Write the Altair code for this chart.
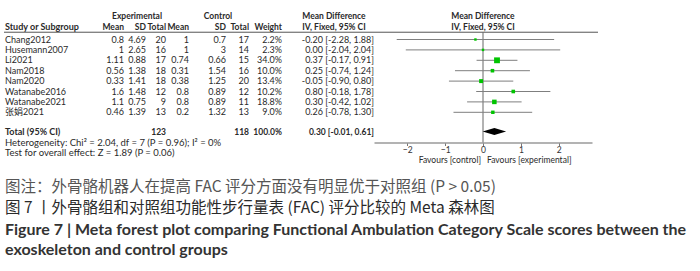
import altair as alt
import pandas as pd

# ---------------- data ----------------
studies = ["Chang2012", "Husemann2007", "Li2021", "Nam2018", "Nam2020",
           "Watanabe2016", "Watanabe2021", "张娟2021"]
e_mean = [0.8, 1, 1.11, 0.56, 0.33, 1.6, 1.1, 0.46]
e_sd = [4.69, 2.65, 0.88, 1.38, 1.41, 1.48, 0.75, 1.39]
e_n = [20, 16, 17, 18, 18, 12, 9, 13]
c_mean = [1, 1, 0.74, 0.31, 0.38, 0.8, 0.8, 0.2]
c_sd = [0.7, 3, 0.66, 1.54, 1.25, 0.89, 0.89, 1.32]
c_n = [17, 14, 15, 16, 20, 12, 11, 13]
weight = [2.2, 2.3, 34.0, 10.0, 13.4, 10.2, 18.8, 9.0]
md = [-0.20, 0.00, 0.37, 0.25, -0.05, 0.80, 0.30, 0.26]
lo = [-2.28, -2.04, -0.17, -0.74, -0.90, -0.18, -0.42, -0.78]
hi = [1.88, 2.04, 0.91, 1.24, 0.80, 1.78, 1.02, 1.30]

total_e, total_c = 123, 118
total_md, total_lo, total_hi = 0.30, -0.01, 0.61
het_text = "Heterogeneity: Chi² = 2.04, df = 7 (P = 0.96); I² = 0%"
test_text = "Test for overall effect: Z = 1.89 (P = 0.06)"
axis_ticks = [-2, -1, 0, 1, 2]

caption = [
    "图注：外骨骼机器人在提高 FAC 评分方面没有明显优于对照组 (P > 0.05)",
    "图 7 丨外骨骼组和对照组功能性步行量表 (FAC) 评分比较的 Meta 森林图",
    "Figure 7  |  Meta forest plot comparing Functional Ambulation Category Scale scores between the",
    "exoskeleton and control groups",
]

# ---------------- helpers ----------------
FONT = "Lato, Noto Sans CJK SC"
CJK = "Noto Sans CJK SC, Lato"
TXT = "#2a2a2a"
FS = 9      # body rows
FSH = 8.5   # bold column headers / totals


def g(v):
    return f"{v:g}"


def ci(m, l, h):
    return f"{m:.2f} [{l:.2f}, {h:.2f}]"


rows = list(range(len(studies)))
df = pd.DataFrame({
    "study": studies,
    "e_mean": [g(v) for v in e_mean],
    "e_sd": [g(v) for v in e_sd],
    "e_n": [str(v) for v in e_n],
    "c_mean": [g(v) for v in c_mean],
    "c_sd": [g(v) for v in c_sd],
    "c_n": [str(v) for v in c_n],
    "w_txt": [f"{v:.1f}%" for v in weight],
    "ci_txt": [ci(m, l, h) for m, l, h in zip(md, lo, hi)],
    "weight": weight, "md": md, "lo": lo, "hi": hi, "row": rows,
})

R_H1, R_H2, R_LINE = -2.3, -1.25, -0.7
R_TOT, R_HET, R_TEST, R_AX = 8.85, 9.95, 10.95, 9.9

yscale = alt.Scale(domain=[0, 10], range=[39.5, 143.5], zero=False, nice=False)
xscale = alt.Scale(domain=[-2.88, 2.88], range=[374, 592], zero=False, nice=False)
xaxis = alt.Axis(values=axis_ticks, offset=-128.5, title=None, grid=False,
                 domainColor="#9a9a9a", domainWidth=1.5, tickColor="#777777",
                 tickSize=3, labelFontSize=8.5, labelColor="#333333", labelFont=FONT,
                 labelPadding=0, format="d")
Y = alt.Y("row:Q", scale=yscale, axis=None)

layers = []

# table columns: (field, x, align)
X_STUDY, X_EM, X_ESD, X_EN, X_CM, X_CSD, X_CN, X_W, X_CI = 5, 124, 146, 166, 189, 226, 249, 282, 374
cols = [("study", X_STUDY, "left"), ("e_mean", X_EM, "right"), ("e_sd", X_ESD, "right"),
        ("e_n", X_EN, "right"), ("c_mean", X_CM, "right"), ("c_sd", X_CSD, "right"),
        ("c_n", X_CN, "right"), ("w_txt", X_W, "right"), ("ci_txt", X_CI, "right")]
for f, xp, al in cols:
    layers.append(alt.Chart(df).mark_text(align=al, baseline="middle", fontSize=FS,
                                          font=FONT, color=TXT)
                  .encode(x=alt.value(xp), y=Y, text=f"{f}:N"))

# headers and totals (bold)
X_CIH = 334
hdr = [("Experimental", R_H1, 137, "center", FSH), ("Control", R_H1, 218, "center", FSH),
       ("Mean Difference", R_H1, X_CIH, "center", FSH),
       ("Study or Subgroup", R_H2, X_STUDY, "left", 9), ("Mean", R_H2, X_EM, "right", FSH),
       ("SD", R_H2, X_ESD, "right", FSH), ("Total", R_H2, X_EN, "right", FSH),
       ("Mean", R_H2, X_CM, "right", FSH), ("SD", R_H2, X_CSD, "right", FSH),
       ("Total", R_H2, X_CN, "right", FSH), ("Weight", R_H2, X_W, "right", FSH),
       ("IV, Fixed, 95% CI", R_H2, X_CIH, "center", FSH),
       ("Total (95% CI)", R_TOT, X_STUDY, "left", 9), (str(total_e), R_TOT, X_EN, "right", FSH),
       (str(total_c), R_TOT, X_CN, "right", FSH), ("100.0%", R_TOT, X_W, "right", FSH),
       (ci(total_md, total_lo, total_hi), R_TOT, X_CI, "right", FSH)]
for t, r, xp, al, fs in hdr:
    layers.append(alt.Chart(pd.DataFrame({"t": [t], "row": [r]}))
                  .mark_text(align=al, baseline="middle", fontSize=fs, font=FONT,
                             fontWeight="bold", color=TXT)
                  .encode(x=alt.value(xp), y=Y, text="t:N"))

for t, r in [(het_text, R_HET), (test_text, R_TEST)]:
    layers.append(alt.Chart(pd.DataFrame({"t": [t], "row": [r]}))
                  .mark_text(align="left", baseline="middle", fontSize=9.5, font=FONT,
                             color=TXT)
                  .encode(x=alt.value(5), y=Y, text="t:N"))

# header underline
layers.append(alt.Chart(pd.DataFrame({"row": [R_LINE]})).mark_rule(color="#555555", strokeWidth=1)
              .encode(x=alt.value(4), x2=alt.value(598), y=Y))

# forest plot header
for t, r in [("Mean Difference", R_H1), ("IV, Fixed, 95% CI", R_H2)]:
    layers.append(alt.Chart(pd.DataFrame({"t": [t], "row": [r], "z": [0]}))
                  .mark_text(align="center", baseline="middle", fontSize=FSH, font=FONT,
                             fontWeight="bold", color=TXT)
                  .encode(x=alt.X("z:Q", scale=xscale, axis=xaxis), y=Y, text="t:N"))

# zero line
layers.append(alt.Chart(pd.DataFrame({"z": [0], "row": [R_LINE], "row2": [R_AX]}))
              .mark_rule(color="#666666", strokeWidth=1)
              .encode(x=alt.X("z:Q", scale=xscale, axis=xaxis), y=Y, y2="row2:Q"))

# CI lines
layers.append(alt.Chart(df).mark_rule(color="#7f7f7f", strokeWidth=1)
              .encode(x=alt.X("lo:Q", scale=xscale, axis=xaxis), x2="hi:Q", y=Y))

# squares
layers.append(alt.Chart(df).mark_square(color="#00c400", opacity=1)
              .encode(x=alt.X("md:Q", scale=xscale, axis=xaxis), y=Y,
                      size=alt.Size("weight:Q", scale=alt.Scale(domain=[0, 34], range=[4, 34]),
                                    legend=None)))

# diamond
half = 0.34
dia = pd.DataFrame({"x": [total_lo, total_md, total_hi],
                    "row": [R_TOT, R_TOT - half, R_TOT],
                    "row2": [R_TOT, R_TOT + half, R_TOT]})
layers.append(alt.Chart(dia).mark_area(color="black", opacity=1)
              .encode(x=alt.X("x:Q", scale=xscale, axis=xaxis), y=Y, y2="row2:Q"))

# favours labels
for t, al, dx in [("Favours [control]", "right", -2), ("Favours [experimental]", "left", 4)]:
    layers.append(alt.Chart(pd.DataFrame({"t": [t], "z": [0], "row": [11.55]}))
                  .mark_text(align=al, baseline="middle", fontSize=8.5, font=FONT,
                             color=TXT, dx=dx)
                  .encode(x=alt.X("z:Q", scale=xscale, axis=xaxis), y=Y, text="t:N"))

# caption
cap_style = [(187, 15.5, "normal", "#555555", CJK), (208, 15.5, "normal", "#2a2a2a", CJK),
             (230, 16, "bold", "#333333", FONT), (250, 16, "bold", "#333333", FONT)]
for t, (yp, fs, fw, col, fnt) in zip(caption, cap_style):
    layers.append(alt.Chart(pd.DataFrame({"t": [t]}))
                  .mark_text(align="left", baseline="middle", fontSize=fs, fontWeight=fw,
                             font=fnt, color=col)
                  .encode(x=alt.value(5), y=alt.value(yp), text="t:N"))

chart = (alt.layer(*layers)
         .properties(width=700, height=271, autosize=alt.AutoSizeParams(type="none"),
                     padding=0, background="white")
         .configure_view(stroke=None))

chart.save("out.html", embed_options={"renderer": "svg", "actions": False})
